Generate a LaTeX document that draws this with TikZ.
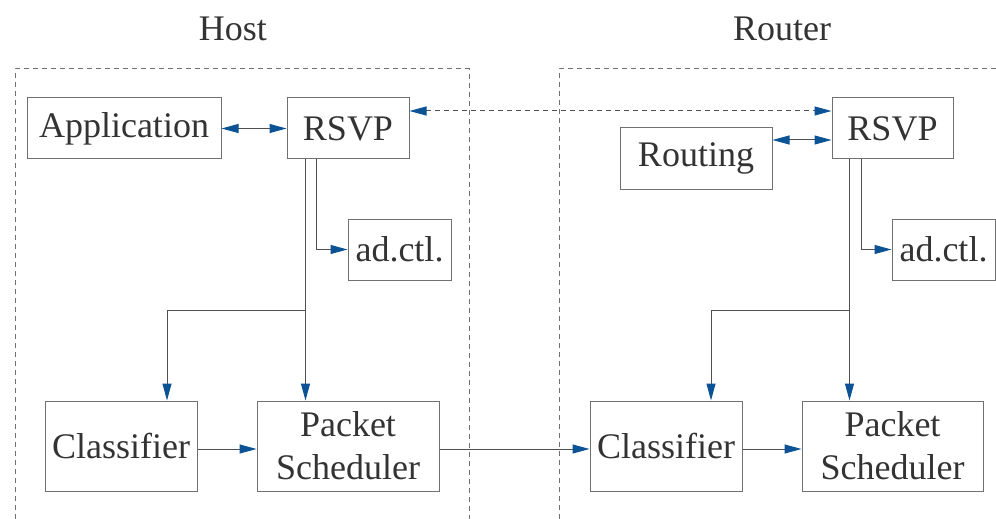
\documentclass[tikz,border=0pt]{standalone}
\usepackage{fontspec}
\setmainfont{Liberation Serif}
\usetikzlibrary{arrows.meta}
\definecolor{linegrey}{HTML}{505050}
\definecolor{boxgrey}{HTML}{707070}
\definecolor{tipblue}{HTML}{0B5394}
\definecolor{textgrey}{HTML}{333333}
\tikzstyle{arrow} = [draw=linegrey, line width=0.5pt, ->]
\tikzstyle{dblarrow} = [draw=linegrey, line width=0.5pt, <->]
\tikzstyle{frame} = [draw=boxgrey, line width=0.5pt, dash pattern=on 2.5pt off 2pt]
\begin{document}
\begin{tikzpicture}[x=0.5pt, y=-0.5pt, >={Triangle[length=8.5pt,width=4.5pt,color=tipblue]},
    every node/.style={text=textgrey, font=\rmfamily\fontsize{18}{21.6}\selectfont, inner sep=0pt},
    box/.style={draw=boxgrey, line width=0.5pt, align=center}]
        \useasboundingbox (0,0) rectangle (996,519);

        % Frames
        \draw[frame] (15,519) -- (15,69) -- (469,69) -- (469,519);
        \draw[frame] (559,519) -- (559,69) -- (996,69);
        \node (host) at (233,29) {Host};
        \node (router) at (782,29) {Router};

        % Node positions
        \node[box, minimum width=97pt, minimum height=30.5pt] (app) at (124,128.5) {Application};
        \node[box, minimum width=61pt, minimum height=30.5pt] (hrsvp) at (348,128.5) {RSVP};
        \node[box, minimum width=51.5pt, minimum height=30.5pt] (hadm) at (399.5,249.5) {ad.ctl.};
        \node[box, minimum width=76pt, minimum height=45pt] (hcls) at (121,446) {Classifier};
        \node[box, minimum width=91pt, minimum height=45pt] (hsch) at (348,446) {Packet\\Scheduler};
        \node[box, minimum width=76pt, minimum height=30.5pt] (rrout) at (696,158.5) {Routing};
        \node[box, minimum width=60.5pt, minimum height=30.5pt] (rrsvp) at (892.5,128.5) {RSVP};
        \node[box, minimum width=51.5pt, minimum height=30.5pt] (radm) at (943.5,249.5) {ad.ctl.};
        \node[box, minimum width=76pt, minimum height=45pt] (rcls) at (666,446) {Classifier};
        \node[box, minimum width=90.5pt, minimum height=45pt] (rsch) at (892.5,446) {Packet\\Scheduler};
        \coordinate (hbr) at (306,310);
        \coordinate (rbr) at (850,310);

        \draw[dblarrow] (app) -- (hrsvp);
        \draw[dblarrow, dash pattern=on 2.5pt off 2pt] ([yshift=8.75pt]hrsvp.east) -- ([yshift=8.75pt]rrsvp.west);
        \draw[dblarrow] ([yshift=9.25pt]rrout.east) -- ([yshift=-5.75pt]rrsvp.west);
        \draw[arrow] ([xshift=9.5pt]hrsvp.south west) -- ([xshift=9.5pt]hrsvp.south west |- hsch.north);
        \draw[arrow] (hbr) -| ([xshift=23pt]hcls.north);
        \draw[arrow] ([xshift=15pt]hrsvp.south west) |- (hadm.west);
        \draw[arrow] ([xshift=9pt]rrsvp.south west) -- ([xshift=9pt]rrsvp.south west |- rsch.north);
        \draw[arrow] (rbr) -| ([xshift=22.5pt]rcls.north);
        \draw[arrow] ([xshift=15pt]rrsvp.south west) |- (radm.west);
        \draw[arrow] ([yshift=-1.5pt]hcls.east) -- ([yshift=-1.5pt]hsch.west);
        \draw[arrow] ([yshift=-1.5pt]hsch.east) -- ([yshift=-1.5pt]rcls.west);
        \draw[arrow] ([yshift=-1.5pt]rcls.east) -- ([yshift=-1.5pt]rsch.west);

      \end{tikzpicture}
\end{document}
